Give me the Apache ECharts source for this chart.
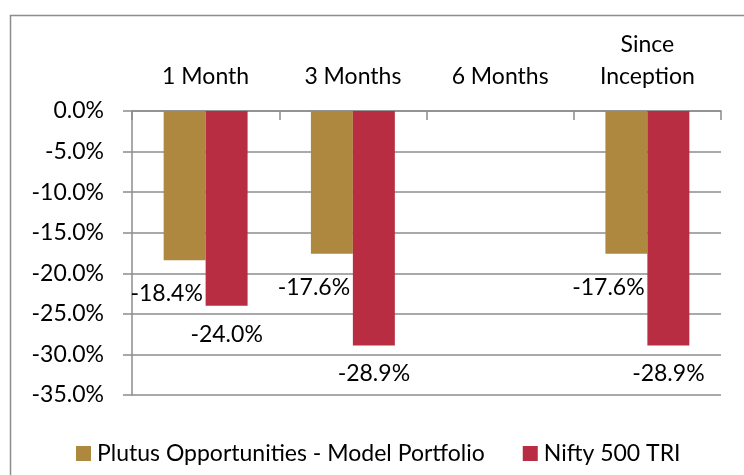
<!DOCTYPE html>
<html>
<head>
<meta charset="utf-8">
<script src="https://cdn.jsdelivr.net/npm/echarts@6/dist/echarts.min.js"></script>
<style>html,body{margin:0;padding:0;background:#fff}#c{width:744px;height:475px}</style>
</head>
<body>
<div id="c"></div>
<script>
const categories = ['1 Month', '3 Months', '6 Months', 'Since\nInception'];
const seriesNames = ['Plutus Opportunities - Model Portfolio', 'Nifty 500 TRI'];
const plutusValues = [-18.4, -17.6, null, -17.6];
const niftyValues = [-24.0, -28.9, null, -28.9];
const yTicks = { min: -35, max: 0, interval: 5 };

const FONT = 'Lato';
const FS = 23;
const GOLD = '#AE883F';
const RED = '#B82D42';
const GREY = '#8C8C8C';

const chart = echarts.init(document.getElementById('c'), null, { renderer: 'canvas' });
const fmt = v => (v === 0 ? '0.0' : v.toFixed(1)) + '%';

chart.setOption({
  animation: false,
  textStyle: { fontFamily: FONT },
  graphic: [{
    type: 'rect', left: 8, top: 13,
    shape: { width: 800, height: 500 },
    style: { fill: 'none', stroke: GREY, lineWidth: 1.5 }
  }],
  grid: { left: 132, right: 23, top: 111, bottom: 80 },
  legend: {
    left: 71, top: 437,
    itemWidth: 15, itemHeight: 15, itemGap: 38,
    icon: 'rect',
    textStyle: { fontFamily: FONT, fontSize: FS, color: '#000', padding: [0, 0, 0, 1] },
    data: seriesNames
  },
  xAxis: {
    type: 'category', position: 'top', data: categories,
    axisLine: { show: true, lineStyle: { color: GREY, width: 1.5 } },
    axisTick: { show: true, inside: true, length: 9, lineStyle: { color: GREY, width: 1.5 } },
    axisLabel: { fontFamily: FONT, fontSize: FS, color: '#000', lineHeight: 32, margin: 18 }
  },
  yAxis: {
    type: 'value', min: yTicks.min, max: yTicks.max, interval: yTicks.interval,
    axisLine: { show: true, lineStyle: { color: GREY, width: 1.5 } },
    axisTick: { show: true, length: 9, lineStyle: { color: GREY, width: 1.5 } },
    splitLine: { show: true, lineStyle: { color: GREY, width: 1.5 } },
    axisLabel: { fontFamily: FONT, fontSize: FS, color: '#000', margin: 28, formatter: fmt }
  },
  series: [
    {
      name: seriesNames[0], type: 'bar', data: plutusValues,
      itemStyle: { color: GOLD }, barGap: '0%', barCategoryGap: '43%',
      label: { show: true, position: 'outside', distance: 22, offset: [-18, 0],
        fontFamily: FONT, fontSize: FS, color: '#000', formatter: p => fmt(p.value) }
    },
    {
      name: seriesNames[1], type: 'bar', data: niftyValues,
      itemStyle: { color: RED }, barGap: '0%', barCategoryGap: '43%',
      label: { show: true, position: 'outside', distance: 17,
        fontFamily: FONT, fontSize: FS, color: '#000', formatter: p => fmt(p.value) }
    }
  ]
});
</script>
</body>
</html>
